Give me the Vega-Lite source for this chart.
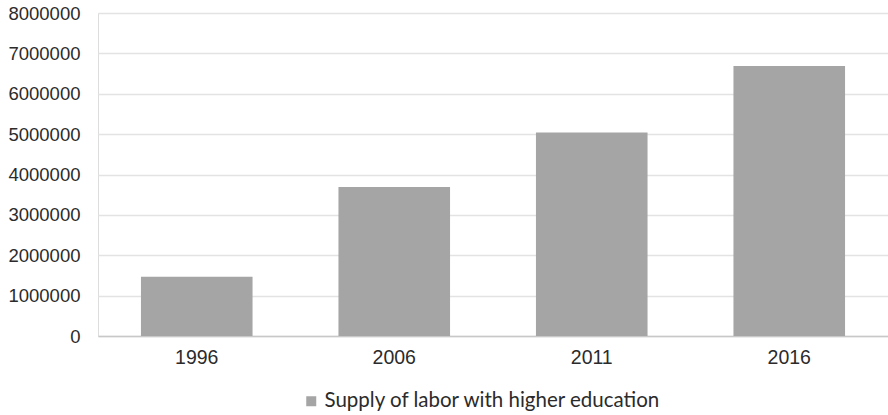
{
  "$schema": "https://vega.github.io/schema/vega-lite/v6.json",
  "width": 790,
  "height": 323,
  "autosize": {"type": "none"},
  "padding": {"left": 98, "top": 13, "right": 0, "bottom": 79},
  "background": "white",
  "data": {
    "values": [
      {"year": "1996", "value": 1470000, "series": "Supply of labor with higher education"},
      {"year": "2006", "value": 3690000, "series": "Supply of labor with higher education"},
      {"year": "2011", "value": 5040000, "series": "Supply of labor with higher education"},
      {"year": "2016", "value": 6690000, "series": "Supply of labor with higher education"}
    ]
  },
  "mark": {"type": "bar"},
  "encoding": {
    "x": {
      "field": "year",
      "type": "nominal",
      "sort": null,
      "scale": {"paddingInner": 0.435, "paddingOuter": 0.2175},
      "axis": {
        "title": null,
        "labelAngle": 0,
        "labelFont": "Liberation Sans",
        "labelFontSize": 19.5,
        "labelColor": "#2b2b2b",
        "labelPadding": 12,
        "ticks": false,
        "domainColor": "#c8c8c8",
        "domainWidth": 1.5,
        "grid": false
      }
    },
    "y": {
      "field": "value",
      "type": "quantitative",
      "scale": {"domain": [0, 8000000], "nice": false},
      "axis": {
        "title": null,
        "values": [0, 1000000, 2000000, 3000000, 4000000, 5000000, 6000000, 7000000, 8000000],
        "format": "d",
        "labelFont": "Liberation Sans",
        "labelFontSize": 18.5,
        "labelColor": "#2b2b2b",
        "labelPadding": 18,
        "ticks": false,
        "domain": false,
        "gridColor": "#e3e3e3",
        "gridWidth": 1.5
      }
    },
    "color": {
      "field": "series",
      "type": "nominal",
      "scale": {"range": ["#a5a5a5"]},
      "legend": {
        "title": null,
        "orient": "none",
        "legendX": 203,
        "legendY": 378,
        "symbolType": "square",
        "symbolSize": 100,
        "symbolStrokeWidth": 0,
        "labelFont": "Lato",
        "labelFontSize": 20.5,
        "labelColor": "#2b2b2b",
        "labelOffset": 3,
        "labelLimit": 500
      }
    }
  }
}
